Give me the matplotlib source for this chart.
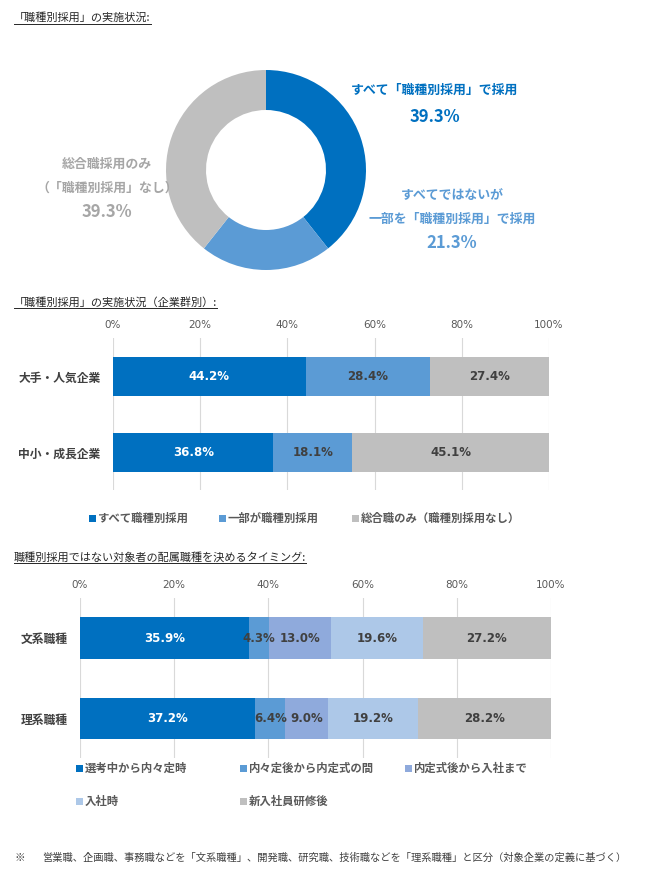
import numpy as np
import matplotlib
matplotlib.use("Agg")
import matplotlib.pyplot as plt
from matplotlib.patches import Rectangle
from matplotlib.lines import Line2D

plt.rcParams['font.family'] = ['Noto Sans CJK JP', 'DejaVu Sans']

W, H = 653, 885

# ---- data ----
donut_labels = ['すべて「職種別採用」で採用', 'すべてではないが\n一部を「職種別採用」で採用', '総合職採用のみ\n（「職種別採用」なし）']
donut_values = [39.3, 21.3, 39.3]

group_cats = ['大手・人気企業', '中小・成長企業']
group_series = ['すべて職種別採用', '一部が職種別採用', '総合職のみ（職種別採用なし）']
group_all = [44.2, 36.8]
group_part = [28.4, 18.1]
group_none = [27.4, 45.1]

timing_cats = ['文系職種', '理系職種']
timing_series = ['選考中から内々定時', '内々定後から内定式の間', '内定式後から入社まで', '入社時', '新入社員研修後']
timing_select = [35.9, 37.2]
timing_offer = [4.3, 6.4]
timing_ceremony = [13.0, 9.0]
timing_join = [19.6, 19.2]
timing_training = [27.2, 28.2]

tick_vals = [0, 20, 40, 60, 80, 100]
tick_labels = ['0%', '20%', '40%', '60%', '80%', '100%']

c_dark = '#0070C0'
c_mid = '#5B9BD5'
c_peri = '#8FAADC'
c_light = '#ADC8E8'
c_gray = '#BFBFBF'
c_text = '#404040'


def fx(x):
    return x / W


def fy(y):
    return 1 - y / H


def ax_rect(left, top, right, bottom):
    return [fx(left), fy(bottom), (right - left) / W, (bottom - top) / H]


fig = plt.figure(figsize=(W / 100, H / 100), dpi=100)
fig.patch.set_facecolor('white')

titles = []


def title(x, y, s):
    t = fig.text(fx(x), fy(y), s, fontsize=8, color='#262626', ha='left', va='center')
    titles.append(t)


# ---- donut ----
ax0 = fig.add_axes(ax_rect(166, 70, 366, 270))
ax0.pie(donut_values, colors=[c_dark, c_mid, c_gray], startangle=90, counterclock=False,
        wedgeprops=dict(width=0.4, linewidth=0))
ax0.set_xlim(-1, 1)
ax0.set_ylim(-1, 1)
ax0.set_aspect('equal')

title(14, 18, '「職種別採用」の実施状況:')
fig.text(fx(435), fy(90), donut_labels[0], color=c_dark, fontsize=9.3, fontweight='bold', ha='center', va='center')
fig.text(fx(435), fy(117), f'{donut_values[0]:.1f}%', color=c_dark, fontsize=12, fontweight='bold', ha='center', va='center')
fig.text(fx(452), fy(207), donut_labels[1], color=c_mid, fontsize=9.3, fontweight='bold', ha='center', va='center', linespacing=1.9)
fig.text(fx(452), fy(243), f'{donut_values[1]:.1f}%', color=c_mid, fontsize=12, fontweight='bold', ha='center', va='center')
fig.text(fx(107), fy(176), donut_labels[2], color='#A6A6A6', fontsize=9.3, fontweight='bold', ha='center', va='center', linespacing=1.9)
fig.text(fx(107), fy(212), f'{donut_values[2]:.1f}%', color='#A6A6A6', fontsize=12, fontweight='bold', ha='center', va='center')


def setup_bar_axes(ax, cats, y0, y1):
    ax.set_xlim(0, 100)
    ax.set_ylim(y1, y0)
    ax.set_xticks(tick_vals)
    ax.set_xticklabels(tick_labels, fontsize=7.5, color='#595959',
                       family=['Liberation Sans Narrow', 'DejaVu Sans'])
    ax.xaxis.tick_top()
    ax.tick_params(axis='x', length=0, pad=6)
    ax.set_yticks(range(len(cats)))
    ax.set_yticklabels(cats, fontsize=8.5, color=c_text, fontweight='bold')
    ax.tick_params(axis='y', length=0, pad=9)
    for s in ax.spines.values():
        s.set_visible(False)
    ax.grid(axis='x', color='#D9D9D9', linewidth=0.8)
    ax.set_axisbelow(True)


def stack(ax, series_vals, colors, label_colors, height):
    ypos = np.arange(len(series_vals[0]))
    left = np.zeros(len(ypos))
    for vals, c, lc in zip(series_vals, colors, label_colors):
        vals = np.array(vals)
        ax.barh(ypos, vals, left=left, color=c, height=height)
        for yy, l, v in zip(ypos, left, vals):
            ax.text(l + v / 2, yy, f'{v:.1f}%', ha='center', va='center', color=lc,
                    fontsize=8.5, fontweight='bold', family=['Liberation Sans Narrow', 'DejaVu Sans'])
        left = left + vals


def legend_item(x, y, color, label):
    fig.patches.append(Rectangle((fx(x - 3.5), fy(y + 3.5)), 7 / W, 7 / H, transform=fig.transFigure,
                                 facecolor=color, edgecolor='none'))
    fig.text(fx(x + 6), fy(y), label, fontsize=8.2, color='#595959', fontweight='bold', ha='left', va='center')


# ---- chart 2: by company group ----
title(14, 302, '「職種別採用」の実施状況（企業群別）:')
ax1 = fig.add_axes(ax_rect(113, 338, 549, 490))
setup_bar_axes(ax1, group_cats, -0.507, 1.493)
stack(ax1, [group_all, group_part, group_none], [c_dark, c_mid, c_gray], ['white', c_text, c_text], 0.52)
for x, c, lab in zip([92, 222, 355], [c_dark, c_mid, c_gray], group_series):
    legend_item(x, 518, c, lab)

# ---- chart 3: timing ----
title(14, 557, '職種別採用ではない対象者の配属職種を決めるタイミング:')
ax2 = fig.add_axes(ax_rect(80, 598, 551, 758))
setup_bar_axes(ax2, timing_cats, -0.497, 1.49)
stack(ax2, [timing_select, timing_offer, timing_ceremony, timing_join, timing_training],
      [c_dark, c_mid, c_peri, c_light, c_gray], ['white', c_text, c_text, c_text, c_text], 0.52)
leg_pos = [(79, 768), (243, 768), (408, 768), (79, 801), (243, 801)]
for (x, y), c, lab in zip(leg_pos, [c_dark, c_mid, c_peri, c_light, c_gray], timing_series):
    legend_item(x, y, c, lab)

# ---- footnote ----
fig.text(fx(14), fy(858), '※', fontsize=7.5, color=c_text, ha='left', va='center')
fig.text(fx(42), fy(858), '営業職、企画職、事務職などを「文系職種」、開発職、研究職、技術職などを「理系職種」と区分（対象企業の定義に基づく）',
         fontsize=7.4, color=c_text, ha='left', va='center')

# underline titles
fig.canvas.draw()
r = fig.canvas.get_renderer()
for t in titles:
    bb = t.get_window_extent(r)
    yline = bb.y0 - 1
    fig.add_artist(Line2D([bb.x0 / W, bb.x1 / W], [yline / H, yline / H], transform=fig.transFigure,
                          color='#262626', linewidth=0.7))

fig.savefig('out.png', dpi=100)
